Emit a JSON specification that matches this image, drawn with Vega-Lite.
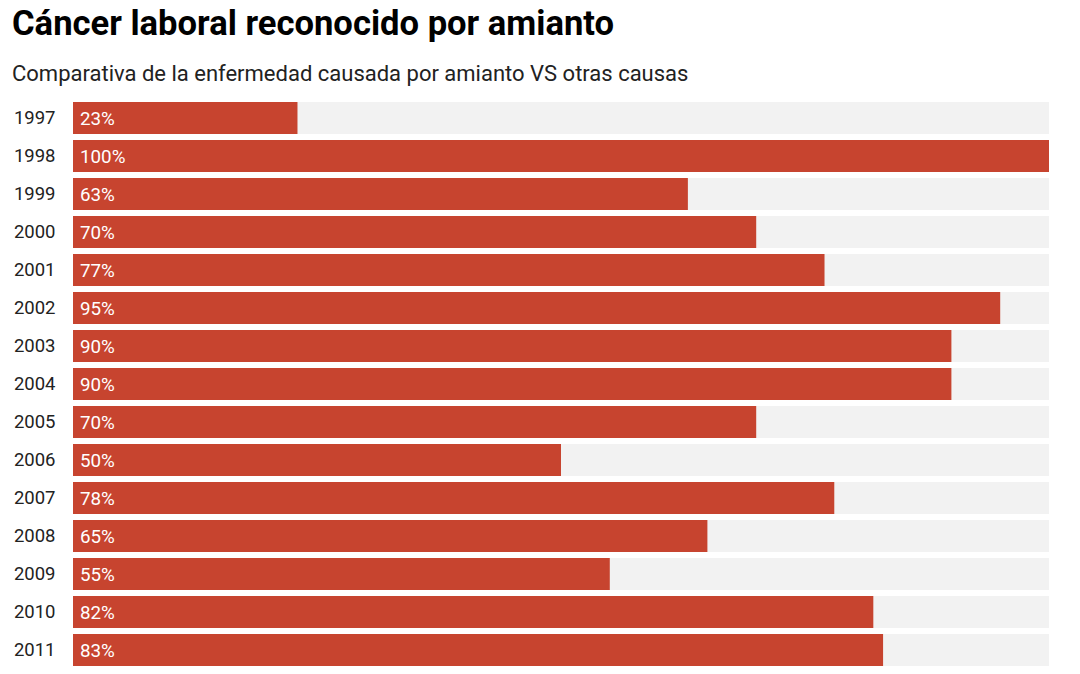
{
  "$schema": "https://vega.github.io/schema/vega-lite/v6.json",
  "width": 976,
  "height": 570,
  "autosize": {"type": "none"},
  "padding": {"left": 73, "top": 99, "right": 31, "bottom": 5},
  "background": "#ffffff",
  "title": {
    "text": "Cáncer laboral reconocido por amianto",
    "subtitle": "Comparativa de la enfermedad causada por amianto VS otras causas",
    "anchor": "start",
    "frame": "group",
    "dx": -61,
    "offset": 13,
    "font": "Roboto",
    "fontSize": 34.6,
    "fontWeight": "bold",
    "color": "#000000",
    "subtitleFont": "Roboto",
    "subtitleFontSize": 22,
    "subtitleColor": "#222222",
    "subtitlePadding": 21
  },
  "config": {
    "view": {"stroke": null},
    "font": "Roboto"
  },
  "data": {
    "values": [
      {"year": "1997", "pct": 23},
      {"year": "1998", "pct": 100},
      {"year": "1999", "pct": 63},
      {"year": "2000", "pct": 70},
      {"year": "2001", "pct": 77},
      {"year": "2002", "pct": 95},
      {"year": "2003", "pct": 90},
      {"year": "2004", "pct": 90},
      {"year": "2005", "pct": 70},
      {"year": "2006", "pct": 50},
      {"year": "2007", "pct": 78},
      {"year": "2008", "pct": 65},
      {"year": "2009", "pct": 55},
      {"year": "2010", "pct": 82},
      {"year": "2011", "pct": 83}
    ]
  },
  "encoding": {
    "y": {
      "field": "year",
      "type": "ordinal",
      "sort": null,
      "scale": {"paddingInner": 0.16, "paddingOuter": 0.08},
      "axis": {
        "title": null,
        "domain": false,
        "ticks": false,
        "labelPadding": 18,
        "labelFontSize": 18.5,
        "labelColor": "#222222",
        "labelFont": "Roboto"
      }
    }
  },
  "layer": [
    {
      "mark": {"type": "bar", "color": "#f2f2f2"},
      "encoding": {
        "x": {"datum": 100, "type": "quantitative", "scale": {"domain": [0, 100], "nice": false}, "axis": null}
      }
    },
    {
      "mark": {"type": "bar", "color": "#c7442f"},
      "encoding": {
        "x": {"field": "pct", "type": "quantitative", "scale": {"domain": [0, 100], "nice": false}, "axis": null}
      }
    },
    {
      "transform": [{"calculate": "datum.pct + '%'", "as": "label"}],
      "mark": {"type": "text", "align": "left", "baseline": "middle", "dx": 7, "dy": 1, "color": "#ffffff", "fontSize": 18.8, "fontWeight": "normal", "font": "Roboto"},
      "encoding": {
        "x": {"datum": 0, "type": "quantitative"},
        "text": {"field": "label", "type": "nominal"}
      }
    }
  ]
}
